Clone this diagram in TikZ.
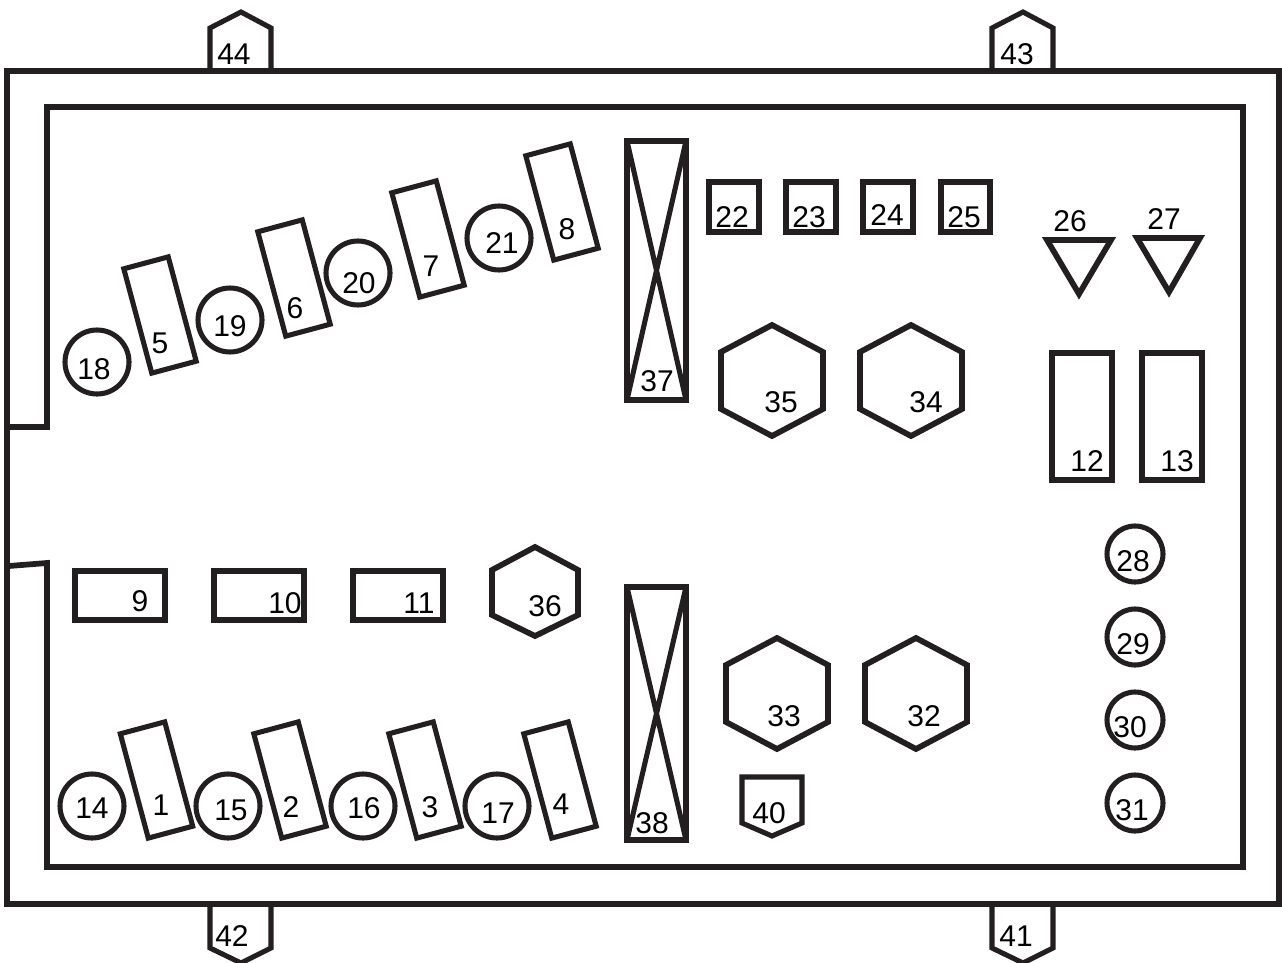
\documentclass[tikz,border=0pt]{standalone}
\usepackage{fontspec}
\setmainfont{Liberation Sans}
\definecolor{ink}{HTML}{231F20}
\tikzset{
  shp/.style={draw=ink,line width=4.3pt,line join=miter},
  thinshp/.style={draw=ink,line width=3.8pt,line join=miter},
  lbl/.style={font=\fontsize{22.5pt}{24pt}\selectfont,text=black,inner sep=0pt,anchor=center},
}
\newcommand\tiltbox[2]{\draw[thinshp,shift={(#1,#2)},rotate=15] (-23,-54) rectangle (23,54);}
\newcommand\rnd[3]{\draw[thinshp] (#1,#2) circle[radius=#3];}
\newcommand\hexbox[2]{\draw[shp] (#1,#2-55) -- (#1+51,#2-28) -- (#1+51,#2+29) -- (#1,#2+56) -- (#1-51,#2+29) -- (#1-51,#2-28) -- cycle;}
\begin{document}
\begin{tikzpicture}[x=0.75pt,y=-0.75pt]
\useasboundingbox (0,0) rectangle (1282,963);
% frame
\draw[shp] (7,71) -- (1279,71) -- (1279,904) -- (7,904) -- cycle;
\draw[shp] (9,427) -- (47,427) -- (47,107) -- (1243,107) -- (1243,867) -- (47,867) -- (47,563) -- (9,566);
% ports
\draw[thinshp] (210,69) -- (210,28) -- (241,12) -- (271,28) -- (271,69);
\draw[thinshp] (992,69) -- (992,28) -- (1023,12) -- (1053,28) -- (1053,69);
\draw[thinshp] (210,906) -- (210,948) -- (241,963) -- (271,948) -- (271,906);
\draw[thinshp] (992,906) -- (992,948) -- (1023,963) -- (1053,948) -- (1053,906);
% tilted fuses
\tiltbox{160}{315}\tiltbox{294}{278}\tiltbox{428}{239}\tiltbox{562}{202}
\tiltbox{156.5}{780}\tiltbox{290}{780}\tiltbox{425}{780}\tiltbox{560}{780}
% circles
\rnd{97}{362}{32}\rnd{230}{320}{32}\rnd{358}{273}{32}\rnd{499}{238}{32}
\rnd{92}{806}{32}\rnd{228}{806}{32}\rnd{363}{806}{32}\rnd{497}{806}{32}
\rnd{1135}{554}{28}\rnd{1135}{637}{28}\rnd{1135}{720}{28}\rnd{1135}{803}{28}
% rectangles
\draw[shp] (75,571) rectangle (165,620);
\draw[shp] (214,571) rectangle (304,620);
\draw[shp] (353,571) rectangle (443,620);
\draw[shp] (709,182) rectangle (759,232);
\draw[shp] (786,182) rectangle (836,232);
\draw[shp] (863,182) rectangle (913,232);
\draw[shp] (941,182) rectangle (990,232);
\draw[shp] (1052,353) rectangle (1112,480);
\draw[shp] (1142,353) rectangle (1202,480);
% crossed relays
\draw[shp] (627,141) rectangle (686,400);
\draw[thinshp] (627,141) -- (686,400) (686,141) -- (627,400);
\draw[shp] (627,587) rectangle (686,840);
\draw[thinshp] (627,587) -- (686,840) (686,587) -- (627,840);
% triangles
\draw[shp] (1047,240) -- (1111,240) -- (1079,294) -- cycle;
\draw[shp] (1137,238) -- (1200,238) -- (1169,292) -- cycle;
% hexagons
\hexbox{772}{380}\hexbox{911}{380}\hexbox{777}{693}\hexbox{916}{693}
\draw[shp] (535,547) -- (578,570) -- (578,615) -- (535,636) -- (492,615) -- (492,570) -- cycle;
\draw[thinshp] (742,777) -- (802,777) -- (802,823) -- (772,836) -- (742,823) -- cycle;
% labels
\node[lbl] (n1) at (161,805) {1};
\node[lbl] (n2) at (291,807) {2};
\node[lbl] (n3) at (430,807) {3};
\node[lbl] (n4) at (561,804) {4};
\node[lbl] (n5) at (160,343) {5};
\node[lbl] (n6) at (295,308) {6};
\node[lbl] (n7) at (431,266) {7};
\node[lbl] (n8) at (567,229) {8};
\node[lbl] (n9) at (140,601) {9};
\node[lbl] (n10) at (285,603) {10};
\node[lbl] (n11) at (419,603) {11};
\node[lbl] (n12) at (1087,461) {12};
\node[lbl] (n13) at (1177,461) {13};
\node[lbl] (n14) at (92,808) {14};
\node[lbl] (n15) at (231,810) {15};
\node[lbl] (n16) at (364,808) {16};
\node[lbl] (n17) at (498,813) {17};
\node[lbl] (n18) at (94,369) {18};
\node[lbl] (n19) at (230,326) {19};
\node[lbl] (n20) at (359,283) {20};
\node[lbl] (n21) at (502,243) {21};
\node[lbl] (n22) at (732,217) {22};
\node[lbl] (n23) at (809,217) {23};
\node[lbl] (n24) at (887,215) {24};
\node[lbl] (n25) at (964,217) {25};
\node[lbl] (n26) at (1070,221) {26};
\node[lbl] (n27) at (1164,219) {27};
\node[lbl] (n28) at (1133,561) {28};
\node[lbl] (n29) at (1133,644) {29};
\node[lbl] (n30) at (1130,727) {30};
\node[lbl] (n31) at (1132,810) {31};
\node[lbl] (n32) at (924,716) {32};
\node[lbl] (n33) at (784,716) {33};
\node[lbl] (n34) at (926,402) {34};
\node[lbl] (n35) at (781,402) {35};
\node[lbl] (n36) at (545,606) {36};
\node[lbl] (n37) at (657,381) {37};
\node[lbl] (n38) at (652,823) {38};
\node[lbl] (n40) at (769,813) {40};
\node[lbl] (n41) at (1016,936) {41};
\node[lbl] (n42) at (232,936) {42};
\node[lbl] (n43) at (1017,54) {43};
\node[lbl] (n44) at (234,54) {44};
\end{tikzpicture}
\end{document}
